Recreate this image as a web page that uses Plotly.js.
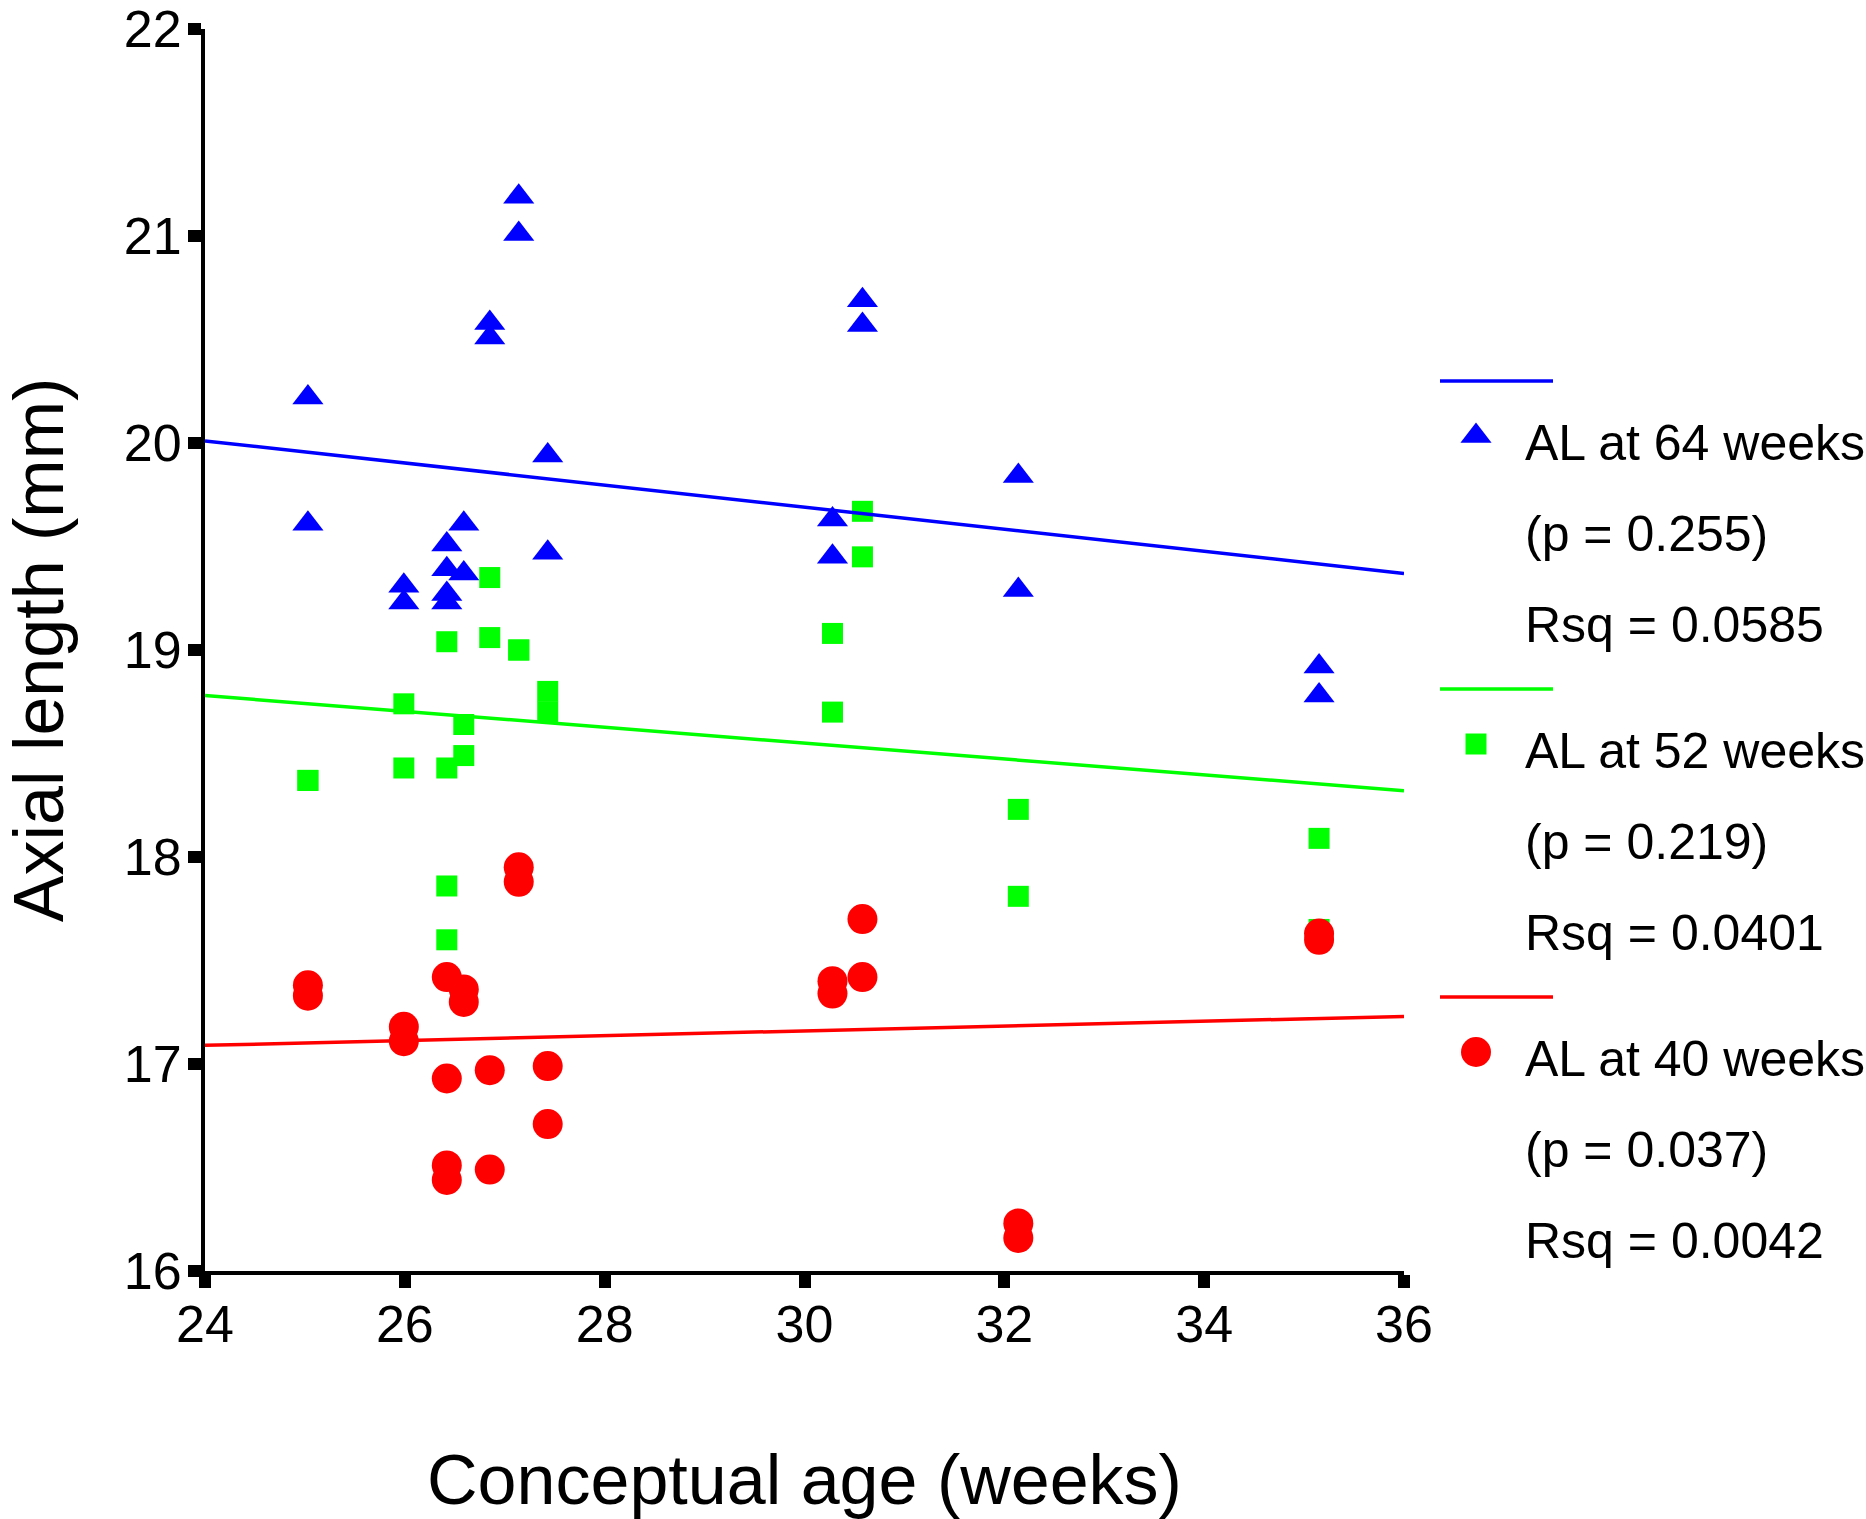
<!DOCTYPE html>
<html>
<head>
<meta charset="utf-8">
<script src="https://cdn.plot.ly/plotly-3.0.1.min.js"></script>
<style>
  html, body { margin: 0; padding: 0; background: #ffffff; }
  #chart { width: 1866px; height: 1519px; }
</style>
</head>
<body>
<div id="chart"></div>
<script>
// ---------- data ----------
const ageAL64 = [25.03, 25.03, 25.99, 25.99, 26.42, 26.42, 26.42, 26.42, 26.59, 26.59, 26.85, 26.85,
                 27.14, 27.14, 27.43, 27.43, 30.28, 30.28, 30.58, 30.58, 32.14, 32.14, 35.15, 35.15];
const valAL64 = [20.22, 19.61, 19.31, 19.23, 19.51, 19.39, 19.27, 19.23, 19.61, 19.37, 20.58, 20.51,
                 21.19, 21.01, 19.94, 19.47, 19.63, 19.45, 20.69, 20.57, 19.84, 19.29, 18.92, 18.78];

const ageAL52 = [25.03, 25.03, 25.99, 25.99, 26.42, 26.42, 26.42, 26.42, 26.59, 26.59, 26.85, 26.85,
                 27.14, 27.14, 27.43, 27.43, 30.28, 30.28, 30.58, 30.58, 32.14, 32.14, 35.15, 35.15];
const valAL52 = [18.37, 18.37, 18.74, 18.43, 19.04, 18.43, 17.86, 17.60, 18.64, 18.49, 19.35, 19.06,
                 19.00, 19.00, 18.80, 18.70, 19.08, 18.70, 19.67, 19.45, 18.23, 17.81, 18.09, 17.65];

const ageAL40 = [25.03, 25.03, 25.99, 25.99, 26.42, 26.42, 26.42, 26.42, 26.59, 26.59, 26.85, 26.85,
                 27.14, 27.14, 27.43, 27.43, 30.28, 30.28, 30.58, 30.58, 32.14, 32.14, 35.15, 35.15];
const valAL40 = [17.38, 17.33, 17.18, 17.11, 17.42, 16.93, 16.51, 16.44, 17.36, 17.30, 16.97, 16.49,
                 17.95, 17.88, 16.99, 16.71, 17.40, 17.34, 17.70, 17.42, 16.23, 16.16, 17.63, 17.60];

// regression lines: end values read at x = 24 and x = 36
const fitAge   = [24, 36];
const fitAL64  = [20.01, 19.37];
const fitAL52  = [18.78, 18.32];
const fitAL40  = [17.09, 17.23];

const xTickVals = [24, 26, 28, 30, 32, 34, 36];
const yTickVals = [16, 17, 18, 19, 20, 21, 22];

const seriesNames = ['AL at 64 weeks', 'AL at 52 weeks', 'AL at 40 weeks'];
const pValues     = ['0.255', '0.219', '0.037'];
const rsqValues   = ['0.0585', '0.0401', '0.0042'];

// ---------- styles ----------
const BLUE = '#0000ff', GREEN = '#00ff00', RED = '#ff0000';
const colors  = [BLUE, GREEN, RED];
const symbols = ['triangle-up', 'square', 'circle'];
const sizes   = [27, 21, 30];

const W = 1866, H = 1519;
const plotL = 205, plotR = 1404, plotT = 29, plotB = 1271;
const FONT = 'Liberation Sans, Arial, Helvetica, sans-serif';

const ages = [ageAL64, ageAL52, ageAL40];
const vals = [valAL64, valAL52, valAL40];
const fits = [fitAL64, fitAL52, fitAL40];

const traces = [];
// markers first
for (let i = 0; i < 3; i++) {
  traces.push({
    type: 'scatter', mode: 'markers', x: ages[i], y: vals[i], name: seriesNames[i],
    xaxis: 'x', yaxis: 'y', cliponaxis: false,
    marker: { symbol: symbols[i], size: sizes[i], color: colors[i], line: { width: 0 } }
  });
}
// regression lines on top
for (let i = 0; i < 3; i++) {
  traces.push({
    type: 'scatter', mode: 'lines', x: fitAge, y: fits[i], name: seriesNames[i] + ' fit',
    xaxis: 'x', yaxis: 'y', line: { color: colors[i], width: 3.5 }
  });
}

// ---------- custom legend drawn on a pixel-scaled helper axis ----------
const legLineX = [1440, 1553];
const legMarkX = 1476;
const legTextX = 1523;
const legTop = 381, legGroupGap = 308;
const annotations = [];
for (let i = 0; i < 3; i++) {
  const y0 = legTop + i * legGroupGap;
  traces.push({
    type: 'scatter', mode: 'lines', x: legLineX, y: [y0, y0], xaxis: 'x2', yaxis: 'y2',
    line: { color: colors[i], width: 3.5 }, hoverinfo: 'skip'
  });
  traces.push({
    type: 'scatter', mode: 'markers', x: [legMarkX], y: [y0 + 55], xaxis: 'x2', yaxis: 'y2',
    cliponaxis: false,
    marker: { symbol: symbols[i], size: sizes[i], color: colors[i], line: { width: 0 } }, hoverinfo: 'skip'
  });
  const lines = [seriesNames[i], '(p = ' + pValues[i] + ')', 'Rsq = ' + rsqValues[i]];
  lines.forEach((t, k) => {
    annotations.push({
      xref: 'x2', yref: 'y2', x: legTextX, y: y0 + 62 + k * 91,
      text: t, showarrow: false, xanchor: 'left', yanchor: 'middle',
      font: { family: FONT, size: 50, color: '#000' }
    });
  });
}

const layout = {
  width: W, height: H,
  margin: { l: 0, r: 0, t: 0, b: 0, pad: 0 },
  paper_bgcolor: '#ffffff', plot_bgcolor: 'rgba(0,0,0,0)',
  showlegend: false,
  font: { family: FONT, color: '#000000' },
  xaxis: {
    domain: [plotL / W, plotR / W], range: [24, 36], anchor: 'y',
    tickmode: 'array', tickvals: xTickVals, ticktext: xTickVals.map(String),
    ticks: 'outside', ticklen: 13, tickwidth: 12, tickcolor: '#000',
    showline: true, linewidth: 4, linecolor: '#000',
    showgrid: false, zeroline: false, automargin: false,
    ticklabeloverflow: 'allow',
    tickfont: { family: FONT, size: 52, color: '#000' }, ticklabelstandoff: -8,
    title: { text: 'Conceptual age (weeks)', font: { family: FONT, size: 70, color: '#000' }, standoff: 110 }
  },
  yaxis: {
    domain: [(H - plotB) / H, (H - plotT) / H], range: [16, 22], anchor: 'x',
    tickmode: 'array', tickvals: yTickVals, ticktext: yTickVals.map(String),
    ticks: 'outside', ticklen: 13, tickwidth: 12, tickcolor: '#000',
    showline: true, linewidth: 4, linecolor: '#000',
    showgrid: false, zeroline: false, automargin: false,
    ticklabeloverflow: 'allow',
    tickfont: { family: FONT, size: 52, color: '#000' }, ticklabelstandoff: -4,
    title: { text: 'Axial length (mm)', font: { family: FONT, size: 70, color: '#000' }, standoff: 64 }
  },
  xaxis2: { domain: [1400 / W, 1], range: [1400, 1866], anchor: 'y2', visible: false, fixedrange: true },
  yaxis2: { domain: [0, 1], range: [H, 0], anchor: 'x2', visible: false, fixedrange: true },
  annotations: annotations
};

Plotly.newPlot('chart', traces, layout, { displayModeBar: false, staticPlot: true });
</script>
</body>
</html>
